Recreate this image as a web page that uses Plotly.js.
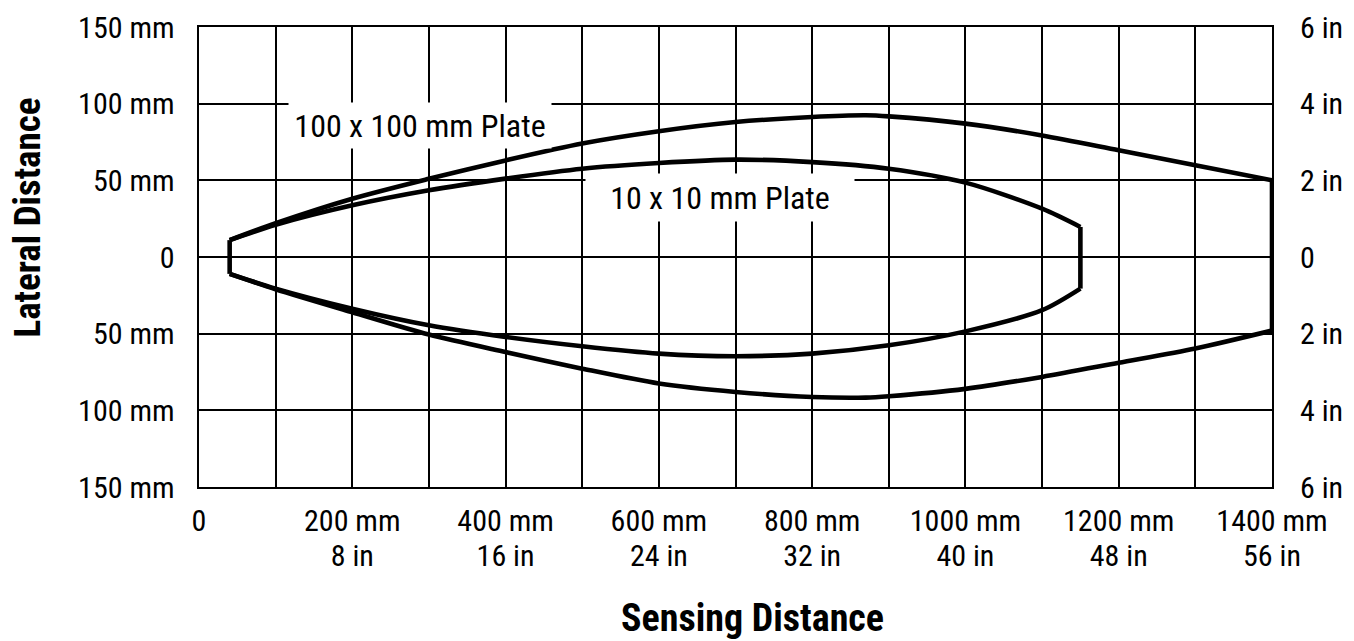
<!DOCTYPE html>
<html>
<head>
<meta charset="utf-8">
<script src="https://cdn.plot.ly/plotly-3.0.1.min.js"></script>
<style>
  html, body { margin: 0; padding: 0; background: #ffffff; }
  #chart { width: 1354px; height: 641px; }
</style>
</head>
<body>
<div id="chart"></div>
<script>
// ---- Data (mm) ----
// Outer envelope: 100 x 100 mm plate
const outerX      = [40, 100, 200, 300, 400, 500, 600, 700, 800, 870, 900, 1000, 1100, 1200, 1300, 1400];
const outerUpperY = [11, 22, 38, 51, 63, 74, 82, 88, 91.3, 92.4, 91.7, 87, 79.3, 69.6, 59.8, 50];
const outerLowerY = [-11, -21, -36, -50.6, -62, -72.8, -82.5, -88, -91.3, -91.7, -90.8, -86, -78.2, -69, -59.7, -48];

// Inner envelope: 10 x 10 mm plate
const innerX      = [40, 100, 200, 300, 400, 500, 600, 700, 800, 900, 1000, 1100, 1150];
const innerUpperY = [11, 21, 33.7, 43.5, 51.1, 57.6, 61.3, 63.5, 61.9, 57.6, 48.5, 31.5, 19.6];
const innerLowerY = [-11, -20.6, -33.7, -44.5, -52.1, -58.2, -63, -64.7, -63, -57.6, -48.5, -34.7, -20.6];

// Axes / ticks
const xGridVals  = [0, 100, 200, 300, 400, 500, 600, 700, 800, 900, 1000, 1100, 1200, 1300, 1400];
const xMmLabels  = ['0', '', '200 mm', '', '400 mm', '', '600 mm', '', '800 mm', '', '1000 mm', '', '1200 mm', '', '1400 mm'];
const xInVals    = [200, 400, 600, 800, 1000, 1200, 1400];
const xInLabels  = ['8 in', '16 in', '24 in', '32 in', '40 in', '48 in', '56 in'];
const yVals      = [-150, -100, -50, 0, 50, 100, 150];
const yMmLabels  = ['150 mm', '100 mm', '50 mm', '0', '50 mm', '100 mm', '150 mm'];
const yInLabels  = ['6 in', '4 in', '2 in', '0', '2 in', '4 in', '6 in'];

const seriesNames = ['100 x 100 mm Plate', '10 x 10 mm Plate'];
const titleX = 'Sensing Distance';
const titleY = 'Lateral Distance';

// ---- Styles ----
const FONT = 'Liberation Sans Narrow, Arial Narrow, Roboto Condensed, sans-serif';
const curveLine = { color: '#000000', width: 4.6 };

function spline(x, y) {
  return { type: 'scatter', mode: 'lines', x: x, y: y,
           line: Object.assign({ shape: 'spline', smoothing: 0.8 }, curveLine),
           hoverinfo: 'skip', showlegend: false };
}
function cap(x, y) {
  return { type: 'scatter', mode: 'lines', x: x, y: y,
           line: Object.assign({ shape: 'linear' }, curveLine),
           hoverinfo: 'skip', showlegend: false };
}
const last = a => a[a.length - 1];

const traces = [
  spline(outerX, outerUpperY),
  spline(outerX, outerLowerY),
  cap([outerX[0], outerX[0]], [outerUpperY[0], outerLowerY[0]]),
  cap([last(outerX), last(outerX)], [last(outerUpperY), last(outerLowerY)]),
  spline(innerX, innerUpperY),
  spline(innerX, innerLowerY),
  cap([last(innerX), last(innerX)], [last(innerUpperY), last(innerLowerY)]),
  // invisible helpers so the secondary axes exist
  { type: 'scatter', mode: 'lines', x: outerX, y: outerUpperY, xaxis: 'x2', yaxis: 'y',
    line: { width: 0, color: 'rgba(0,0,0,0)' }, hoverinfo: 'skip', showlegend: false },
  { type: 'scatter', mode: 'lines', x: outerX, y: outerUpperY, xaxis: 'x', yaxis: 'y2',
    line: { width: 0, color: 'rgba(0,0,0,0)' }, hoverinfo: 'skip', showlegend: false }
];

const tickFont = { family: FONT, size: 30, color: '#000000' };

const layout = {
  width: 1354, height: 641,
  paper_bgcolor: '#ffffff', plot_bgcolor: '#ffffff',
  margin: { l: 198.5, r: 81.5, t: 26.7, b: 154.2, pad: 0 },
  showlegend: false,
  font: { family: FONT, color: '#000000' },
  xaxis: {
    range: [0, 1400], tickmode: 'array', tickvals: xGridVals, ticktext: xMmLabels,
    showgrid: true, gridcolor: '#000000', gridwidth: 2,
    showline: true, linecolor: '#000000', linewidth: 2.4, mirror: true,
    zeroline: false, ticks: '', tickfont: tickFont, ticklabelstandoff: 6,
    fixedrange: true
  },
  xaxis2: {
    overlaying: 'x', anchor: 'y', side: 'bottom',
    range: [0, 1400], tickmode: 'array', tickvals: xInVals, ticktext: xInLabels,
    showgrid: false, showline: false, zeroline: false, ticks: '',
    tickfont: tickFont, ticklabelstandoff: 48, fixedrange: true
  },
  yaxis: {
    range: [-150, 150], tickmode: 'array', tickvals: yVals, ticktext: yMmLabels,
    showgrid: true, gridcolor: '#000000', gridwidth: 2,
    showline: true, linecolor: '#000000', linewidth: 2.4, mirror: true,
    zeroline: false, ticks: '', tickfont: tickFont, ticklabelstandoff: 16,
    fixedrange: true
  },
  yaxis2: {
    overlaying: 'y', anchor: 'x', side: 'right',
    range: [-150, 150], tickmode: 'array', tickvals: yVals, ticktext: yInLabels,
    showgrid: false, showline: false, zeroline: false, ticks: '',
    tickfont: tickFont, ticklabelstandoff: 27, fixedrange: true
  },
  annotations: [
    { text: seriesNames[0], xref: 'x', yref: 'y', x: 288.8, y: 86,
      showarrow: false, bgcolor: '#ffffff', width: 260, height: 43,
      font: { family: FONT, size: 32, color: '#000000' } },
    { text: seriesNames[1], xref: 'x', yref: 'y', x: 680, y: 38.6,
      showarrow: false, bgcolor: '#ffffff', width: 266, height: 45,
      font: { family: FONT, size: 32, color: '#000000' } },
    { text: '<b>' + titleX + '</b>', xref: 'paper', yref: 'paper',
      x: 0.5154, y: -0.2845, xanchor: 'center', yanchor: 'middle', showarrow: false,
      font: { family: FONT, size: 38, color: '#000000' } },
    { text: '<b>' + titleY + '</b>', xref: 'paper', yref: 'paper',
      x: -0.1597, y: 0.585, xanchor: 'center', yanchor: 'middle', showarrow: false,
      textangle: -90, font: { family: FONT, size: 37, color: '#000000' } }
  ]
};

Plotly.newPlot('chart', traces, layout, { displayModeBar: false, staticPlot: true });
</script>
</body>
</html>
